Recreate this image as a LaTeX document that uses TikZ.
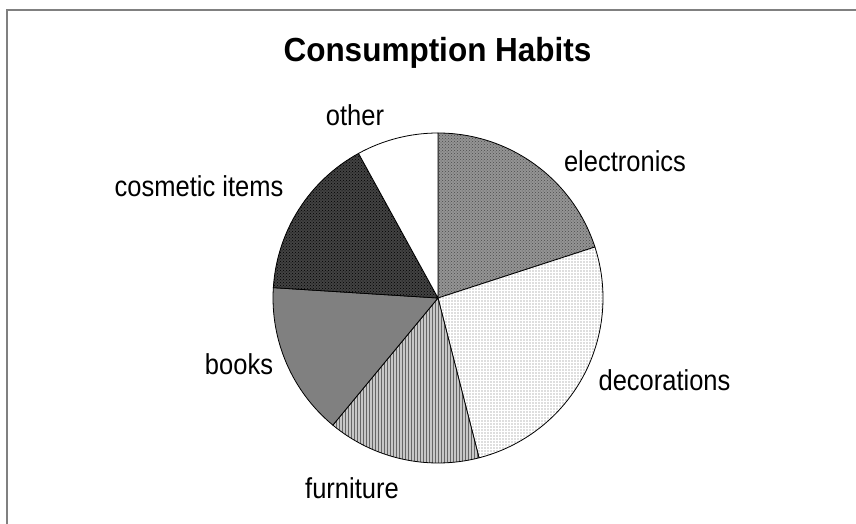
\documentclass[tikz,border=0pt]{standalone}
\usepackage{fontspec}
\setmainfont{Liberation Sans}
\usepackage{tikz}
\usetikzlibrary{patterns,positioning}
\newcommand{\stretchlabel}[2][1.13]{\scalebox{1}[#1]{#2}}

\begin{document}
\begin{tikzpicture}[x=1pt, y=1pt]
\tikzstyle{every node}=[font=\fontsize{25.5}{30}\selectfont, inner sep=0pt, anchor=base]
\tikzstyle{slice}=[draw=black, line width=0.8pt, line join=round]
\useasboundingbox (0,0) rectangle (856,-524);
\draw[gray, line width=2pt] (7,-530) -- (7,-10) -- (862,-10);

\coordinate (c) at (438,-298);

% slices, clockwise from the top
\draw[slice, preaction={fill=black!42}, preaction={pattern=crosshatch dots, pattern color=black!70}]
  (c) -- ++(90:165) arc[start angle=90, end angle=18, radius=165] -- cycle;
\draw[slice, preaction={fill=black!13}, preaction={pattern=grid, pattern color=white}]
  (c) -- ++(18:165) arc[start angle=18, end angle=-75.6, radius=165] -- cycle;
\draw[slice, preaction={fill=black!22}, preaction={pattern=vertical lines, pattern color=black!60}]
  (c) -- ++(-75.6:165) arc[start angle=-75.6, end angle=-129.6, radius=165] -- cycle;
\draw[slice, fill=black!50]
  (c) -- ++(-129.6:165) arc[start angle=-129.6, end angle=-183.6, radius=165] -- cycle;
\draw[slice, preaction={fill=black!74}, preaction={pattern=crosshatch dots, pattern color=black}]
  (c) -- ++(-183.6:165) arc[start angle=-183.6, end angle=-241.2, radius=165] -- cycle;
\draw[slice, fill=white]
  (c) -- ++(-241.2:165) arc[start angle=-241.2, end angle=-270, radius=165] -- cycle;

% labels
\node[font=\bfseries\fontsize{31.5}{36}\selectfont] (title) at (437.5,-62) {\stretchlabel[1.06]{Consumption Habits}};
\node (other) at (355,-125) {\stretchlabel{other}};
\node (electronics) at (625,-171) {\stretchlabel{electronics}};
\node (decorations) at (664.5,-390) {\stretchlabel{decorations}};
\node (furniture) at (352,-498) {\stretchlabel{furniture}};
\node (books) at (239,-374) {\stretchlabel{books}};
\node (cosmetic) at (199,-196) {\stretchlabel{cosmetic items}};
\end{tikzpicture}
\end{document}
